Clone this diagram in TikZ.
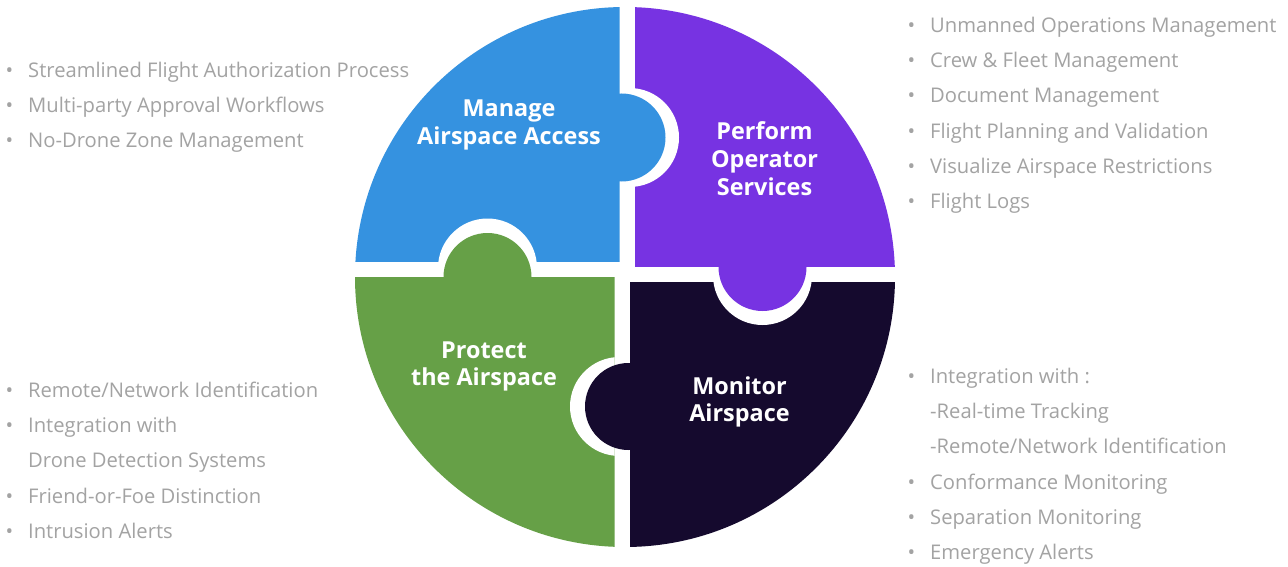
\documentclass[tikz,border=0pt]{standalone}
\usepackage{fontspec}
\setmainfont{Open Sans}
\usepackage{tikz}
\usetikzlibrary{positioning}
\definecolor{accessblue}{RGB}{53,146,224}
\definecolor{operatorpurple}{RGB}{119,51,226}
\definecolor{protectgreen}{RGB}{102,160,71}
\definecolor{monitorink}{RGB}{21,10,46}
\definecolor{listgray}{RGB}{163,163,163}
\tikzstyle{title} = [anchor=base, inner sep=0pt, text=white, font=\fontsize{23.4}{27.8}\selectfont\bfseries]
\tikzstyle{bulletlist} = [anchor=base west, inner sep=0pt, text=listgray, font=\fontsize{20.2}{35.2}\selectfont]
\newcommand{\itm}{\makebox[19pt][l]{\hspace{-3.5pt}\textbullet}}
\newcommand{\titlelines}[1]{\begin{tabular}[t]{@{}c@{}}#1\end{tabular}}
\newcommand{\itemlines}[1]{\begin{tabular}[t]{@{}l@{}l@{}}#1\end{tabular}}

\begin{document}
\begin{tikzpicture}[x=1pt, y=-1pt]
\useasboundingbox (0,0) rectangle (1288,567);
\fill[white] (0,0) rectangle (1288,567);

% four quarters of the disc, each with a notch cut out
\begin{scope}
\clip (625,277) circle[radius=270];
\foreach \col/\xa/\ya/\xb/\yb/\nx/\ny in {
    accessblue/340/-10/619.5/262/487.5/268,
    operatorpurple/634.5/-10/910/267/629.5/137.5,
    protectgreen/340/277/614.5/560/619.5/406.5,
    monitorink/629.5/282/910/560/762.5/275.5}
{
  \begin{scope}
    \clip (\xa,\ya) rectangle (\xb,\yb);
    \fill[\col] (\xa,\ya) rectangle (\xb,\yb);
    \fill[white] (\nx,\ny) circle[radius=49.5];
  \end{scope}
}
\end{scope}
% tabs
\fill[accessblue] (621.5,137.5) circle[radius=44];
\fill[operatorpurple] (762.5,267) circle[radius=44];
\fill[protectgreen] (487.5,277) circle[radius=44];
\fill[monitorink] (628.5,406.5) circle[radius=43.5];

\node (manage) [title] at (509,117) {\titlelines{Manage\\Airspace Access}};
\node (perform) [title] at (764.5,139.5) {\titlelines{Perform\\Operator\\Services}};
\node (protect) [title] at (484,358) {\titlelines{Protect\\the Airspace}};
\node (monitor) [title] at (739.5,394) {\titlelines{Monitor\\Airspace}};

\node (accesslist) [bulletlist] at (9,77.5) {\itemlines{
  \itm & Streamlined Flight Authorization Process\\
  \itm & Multi-party Approval Workflows\\
  \itm & No-Drone Zone Management}};
\node (operatorlist) [bulletlist] at (911,32.5) {\itemlines{
  \itm & Unmanned Operations Management\\
  \itm & Crew \& Fleet Management\\
  \itm & Document Management\\
  \itm & Flight Planning and Validation\\
  \itm & Visualize Airspace Restrictions\\
  \itm & Flight Logs}};
\node (protectlist) [bulletlist] at (9,397.5) {\itemlines{
  \itm & Remote/Network Identification\\
  \itm & Integration with\\
       & Drone Detection Systems\\
  \itm & Friend-or-Foe Distinction\\
  \itm & Intrusion Alerts}};
\node (monitorlist) [bulletlist] at (911,383.5) {\itemlines{
  \itm & Integration with :\\
       & -Real-time Tracking\\
       & -Remote/Network Identification\\
  \itm & Conformance Monitoring\\
  \itm & Separation Monitoring\\
  \itm & Emergency Alerts}};
\end{tikzpicture}
\end{document}
